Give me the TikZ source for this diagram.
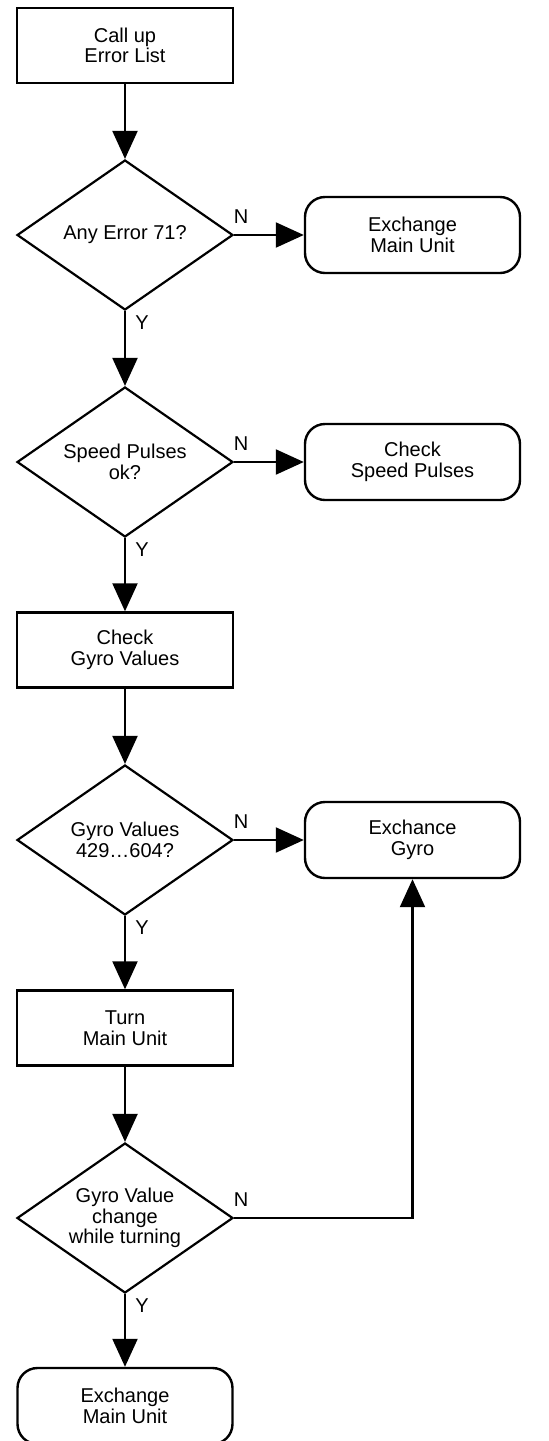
\documentclass[tikz,border=0pt]{standalone}
\usepackage{fontspec}
\setmainfont{Liberation Sans}
\usetikzlibrary{shapes.geometric,arrows.meta,calc}
\tikzset{
  base/.style={draw=black, line width=2.4pt, align=center, inner sep=0pt,
    font=\fontsize{20}{20.5}\selectfont},
  procbox/.style={base, rectangle, minimum width=216pt, minimum height=75pt},
  endbox/.style={base, rectangle, rounded corners=20pt, minimum width=215pt, minimum height=76pt},
  decide/.style={base, line width=2.2pt, diamond, aspect=1.44, minimum width=216pt, minimum height=150pt},
  arr/.style={line width=2.2pt, -{Triangle[width=25pt,length=28pt]}},
  lab/.style={font=\fontsize{20}{20}\selectfont, inner sep=0pt},
}
\begin{document}
\begin{tikzpicture}[x=1pt,y=-1pt]
\useasboundingbox (0,0) rectangle (549,1441);
\clip (0,0) rectangle (549,1441);
\node[procbox] (r1) at (125,45.5) {Call up\\Error List};
\node[decide] (d1) at (125,235) {Any Error 71?};
\node[endbox] (e1) at (412.5,235) {Exchange\\Main Unit};
\node[decide] (d2) at (125,462) {Speed Pulses\\ok?};
\node[endbox] (e2) at (412.5,462) {Check\\Speed Pulses};
\node[procbox] (r2) at (125,650) {Check\\Gyro Values};
\node[decide] (d3) at (125,840) {Gyro Values\\429\ldots604?};
\node[endbox] (e3) at (412.5,840) {Exchance\\Gyro};
\node[procbox] (r3) at (125,1028) {Turn\\Main Unit};
\node[decide] (d4) at (125,1218) {Gyro Value\\change\\while turning};
\node[endbox] (e4) at (125,1406) {Exchange\\Main Unit};

\draw[arr] (r1) -- (d1);
\draw[arr] (d1) -- (e1);
\draw[arr] (d1) -- (d2);
\draw[arr] (d2) -- (e2);
\draw[arr] (d2) -- (r2);
\draw[arr] (r2) -- (d3);
\draw[arr] (d3) -- (e3);
\draw[arr] (d3) -- (r3);
\draw[arr] (r3) -- (d4);
\draw[arr] (d4.east) -| (e3.south);
\draw[arr] (d4) -- (e4);

\node[lab] (n1) at ($(d1.east)+(7,-18)$) {N};
\node[lab] (y1) at ($(d1.south)+(17,12)$) {Y};
\node[lab] (n2) at ($(d2.east)+(7,-18)$) {N};
\node[lab] (y2) at ($(d2.south)+(17,12)$) {Y};
\node[lab] (n3) at ($(d3.east)+(7,-18)$) {N};
\node[lab] (y3) at ($(d3.south)+(17,12)$) {Y};
\node[lab] (n4) at ($(d4.east)+(7,-18)$) {N};
\node[lab] (y4) at ($(d4.south)+(17,12)$) {Y};
\end{tikzpicture}
\end{document}
